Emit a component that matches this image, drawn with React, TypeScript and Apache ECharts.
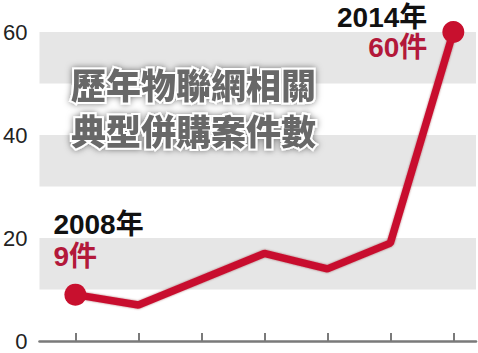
import React, { useEffect, useRef } from "react";
import * as echarts from "echarts";

// Yearly count of typical IoT-related M&A deals
const years = [2008, 2009, 2010, 2011, 2012, 2013, 2014];
const counts = [9, 7, 12, 17, 14, 19, 60];
const yTickLabels = [0, 20, 40, 60];
const titleLines = ["歷年物聯網相關", "典型併購案件數"];

const RED = "#c8102e";
const LABEL_RED = "#b3183a";
const FONT = '"Liberation Sans", "Noto Sans CJK TC", sans-serif';

export default function App() {
  const ref = useRef<HTMLDivElement>(null);

  useEffect(() => {
    if (!ref.current) return;
    const chart = echarts.init(ref.current, null, { renderer: "svg" });
    const last = years.length - 1;

    const rich = (lh: number) => ({
      y: { fontSize: 28, fontWeight: "bold", color: "#111", lineHeight: lh, fontFamily: FONT },
      v: { fontSize: 28, fontWeight: "bold", color: LABEL_RED, lineHeight: lh, fontFamily: FONT },
    });

    const data = years.map((yr, i) => {
      const isEnd = i === 0 || i === last;
      const item: any = {
        value: [yr, counts[i]],
        symbol: isEnd ? "circle" : "none",
        symbolSize: isEnd ? 22 : 0,
      };
      if (i === 0) {
        item.label = {
          show: true,
          position: "top",
          align: "left",
          offset: [-22, -6],
          formatter: `{y|${yr}年}\n{v|${counts[i]}件}`,
          rich: rich(32),
        };
      } else if (i === last) {
        item.label = {
          show: true,
          position: "left",
          distance: 15,
          formatter: `{y|${yr}年}\n{v|${counts[i]}件}`,
          rich: rich(30),
        };
      }
      return item;
    });

    chart.setOption({
      animation: false,
      backgroundColor: "#fff",
      grid: { left: 37, right: 2, top: 32, bottom: 12 },
      xAxis: {
        type: "value",
        min: 2007.43,
        max: 2014.36,
        axisLine: { show: true, lineStyle: { color: "#7a7a7a", width: 2.5 } },
        axisTick: {
          show: true,
          inside: true,
          length: 8,
          customValues: years,
          lineStyle: { color: "#7a7a7a", width: 2 },
        },
        axisLabel: { show: false },
        splitLine: { show: false },
      },
      yAxis: {
        type: "value",
        min: 0,
        max: 60,
        interval: 10,
        axisLine: { show: false },
        axisTick: { show: false },
        axisLabel: {
          margin: 12,
          fontSize: 22,
          color: "#222",
          fontFamily: FONT,
          formatter: (v: number) => (yTickLabels.includes(v) ? String(v) : ""),
        },
        splitLine: { show: false },
        splitArea: { show: true, areaStyle: { color: ["rgba(255,255,255,0)", "#e6e6e6"] } },
      },
      graphic: [
        {
          type: "text",
          left: 69,
          top: 60,
          style: {
            text: titleLines.join("\n"),
            fontSize: 35,
            fontWeight: 900,
            fontFamily: '"Noto Sans CJK TC", sans-serif',
            lineHeight: 46,
            fill: "#686868",
            stroke: "#fff",
            lineWidth: 4,
            textShadowColor: "rgba(0,0,0,0.5)",
            textShadowBlur: 6,
          },
          z: 10,
        },
      ],
      series: [
        {
          type: "line",
          data,
          lineStyle: { color: RED, width: 7.5, shadowColor: "rgba(110,0,20,0.5)", shadowBlur: 2 },
          itemStyle: { color: RED },
          z: 5,
        },
      ],
    });

    return () => chart.dispose();
  }, []);

  return (
    <div
      ref={ref}
      style={{ position: "fixed", left: 0, top: 0, width: 478, height: 353 }}
    />
  );
}
